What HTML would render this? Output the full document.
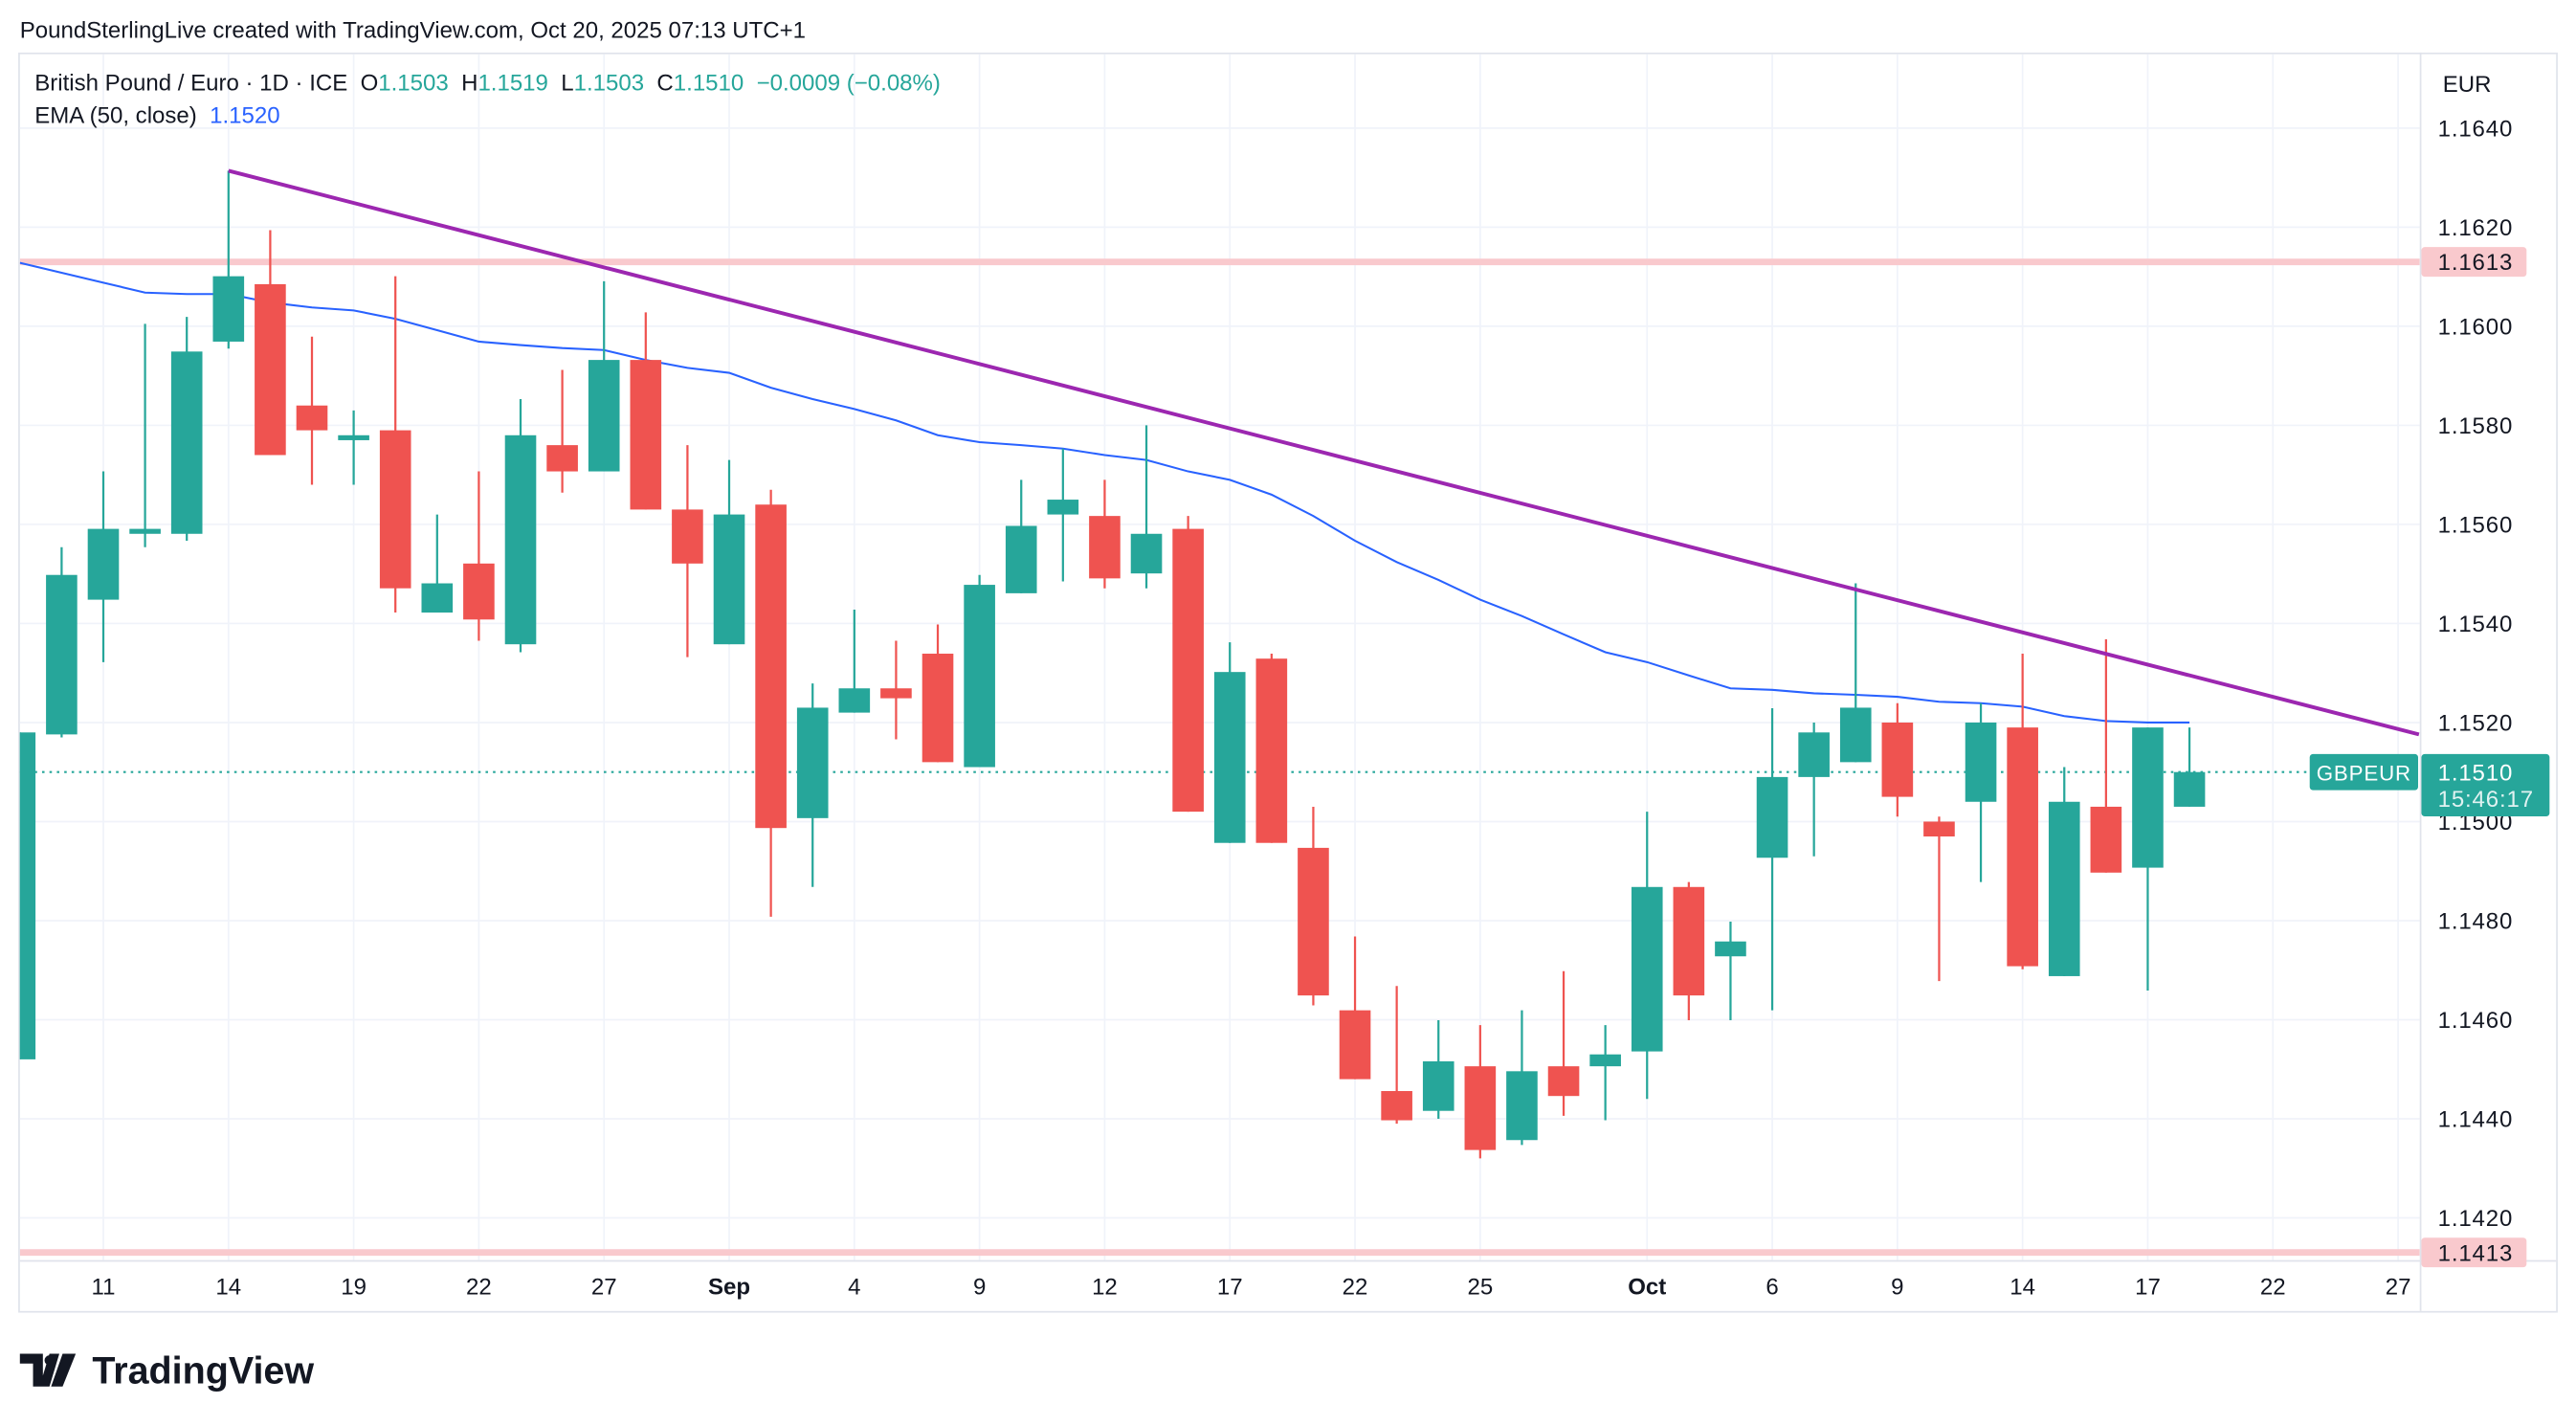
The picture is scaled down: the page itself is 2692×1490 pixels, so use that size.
<!DOCTYPE html>
<html><head><meta charset="utf-8"><style>
html,body{margin:0;padding:0;background:#fff;}
svg{display:block;font-family:"Liberation Sans",sans-serif;}
.pre{white-space:pre;}
</style></head><body>
<svg id="chart" width="2692" height="1490" viewBox="0 0 1568 868" xmlns="http://www.w3.org/2000/svg">
<text x="12" y="23" font-size="14" fill="#131722">PoundSterlingLive created with TradingView.com, Oct 20, 2025 07:13 UTC+1</text>
<rect x="11.5" y="32.5" width="1545" height="766" fill="none" stroke="#e0e3eb" stroke-width="1"/>
<g id="grid"></g>
<g id="levels"></g>
<g id="ema"></g>
<g id="candles"></g>
<g id="trend"></g>
<line x1="1473.5" y1="32" x2="1473.5" y2="798" stroke="#e0e3eb"/>
<line x1="12" y1="767.5" x2="1556" y2="767.5" stroke="#e0e3eb"/>
<g id="yaxis"></g>
<g id="xaxis"></g>
<text x="1487" y="56" font-size="14" fill="#131722">EUR</text>
<text class="pre" xml:space="preserve" x="21" y="55" font-size="14" fill="#131722">British Pound / Euro · 1D · ICE  O<tspan fill="#26a69a">1.1503</tspan>  H<tspan fill="#26a69a">1.1519</tspan>  L<tspan fill="#26a69a">1.1503</tspan>  C<tspan fill="#26a69a">1.1510</tspan>  <tspan fill="#26a69a">−0.0009 (−0.08%)</tspan></text>
<text class="pre" xml:space="preserve" x="21" y="75" font-size="14" fill="#131722">EMA (50, close)  <tspan fill="#2962ff">1.1520</tspan></text>
<g id="tags"></g>
<g>
<path d="M12 824h14v20h-6v-14h-8z M30 824h6l-6 20h-6z" fill="#131722"/>
<circle cx="30" cy="828" r="3" fill="#131722"/>
<path d="M38 824h8l-8 20h-7z" fill="#131722"/>
<text x="56" y="842" font-size="23" font-weight="bold" fill="#131722">TradingView</text>
</g>
</svg>
<script>
// ---- data ----
const open  = [1.1452,1.15176,1.15448,1.15581,1.15581,1.15969,1.16085,1.1584,1.1577,1.1579,1.15422,1.15521,1.15358,1.1576,1.15707,1.15932,1.1563,1.15358,1.1564,1.15007,1.1522,1.15269,1.15339,1.1511,1.15461,1.1562,1.15617,1.15501,1.15591,1.14957,1.15329,1.14947,1.14619,1.14456,1.14416,1.14506,1.14357,1.14506,1.14506,1.14536,1.14868,1.14728,1.14927,1.1509,1.1512,1.152,1.15,1.1504,1.1519,1.14688,1.1503,1.14907,1.1503];
const high  = [1.1518,1.15554,1.15707,1.16005,1.16019,1.16314,1.16194,1.15979,1.1583,1.16101,1.1562,1.15707,1.15853,1.15912,1.16091,1.16028,1.1576,1.1573,1.1567,1.15279,1.15428,1.15365,1.15398,1.15498,1.1569,1.15753,1.1569,1.158,1.15617,1.15362,1.15339,1.1503,1.14768,1.14668,1.14599,1.14589,1.14619,1.14698,1.14589,1.1502,1.14878,1.14798,1.15229,1.152,1.15481,1.15239,1.1501,1.15239,1.15339,1.1511,1.15368,1.1519,1.1519];
const low   = [1.1452,1.1517,1.15322,1.15554,1.15567,1.15955,1.1574,1.1568,1.1568,1.15422,1.15422,1.15365,1.15342,1.15664,1.15707,1.1563,1.15332,1.15358,1.14808,1.14868,1.1522,1.15166,1.1512,1.1511,1.15461,1.15485,1.15471,1.15471,1.1502,1.14957,1.14957,1.14629,1.1448,1.1439,1.144,1.1432,1.14347,1.14406,1.14397,1.1444,1.14599,1.14599,1.14619,1.1493,1.1512,1.1501,1.14678,1.14878,1.14702,1.14688,1.14897,1.14659,1.1503];
const close = [1.1518,1.15498,1.15591,1.15591,1.15949,1.16101,1.1574,1.1579,1.1578,1.15471,1.15481,1.15408,1.1578,1.15707,1.15932,1.1563,1.15521,1.1562,1.14987,1.1523,1.15269,1.15249,1.1512,1.15478,1.15597,1.1565,1.15491,1.15581,1.1502,1.15302,1.14957,1.14649,1.1448,1.14397,1.14516,1.14337,1.14496,1.14446,1.1453,1.14868,1.14649,1.14758,1.1509,1.1518,1.1523,1.1505,1.1497,1.152,1.14708,1.1504,1.14897,1.1519,1.1510];
const emaValues = [1.16128,1.16108,1.16088,1.16068,1.16065,1.16065,1.16048,1.16038,1.16032,1.16015,1.15992,1.15969,1.15962,1.15956,1.15952,1.15932,1.15916,1.15906,1.15876,1.15853,1.15833,1.1581,1.1578,1.15766,1.1576,1.15753,1.1574,1.1573,1.15707,1.1569,1.1566,1.15617,1.15567,1.15524,1.15488,1.15448,1.15415,1.15378,1.15342,1.15322,1.15295,1.15269,1.15266,1.15259,1.15256,1.15252,1.15242,1.15239,1.15232,1.15213,1.15203,1.152,1.152];
const trendIdx = [5, 57.5];
const trendPrice = [1.16314, 1.15176];
const yTicks = [1.1640,1.1620,1.1600,1.1580,1.1560,1.1540,1.1520,1.1500,1.1480,1.1460,1.1440,1.1420];
const xTickIdx = [2,5,8,11,14,17,20,23,26,29,32,35,39,42,45,48,51,54,57];
const xTickLabels = ["11","14","19","22","27","Sep","4","9","12","17","22","25","Oct","6","9","14","17","22","27"];
const levelPrices = [1.1613, 1.1413];
const lastPrice = 1.1510;

// ---- scales ----
const NS="http://www.w3.org/2000/svg";
const X=i=>12+i*25.4;
const Y=p=>78+(1.164-p)/0.002*60.3;
function mk(tag,attrs,parent){const e=document.createElementNS(NS,tag);for(const k in attrs)e.setAttribute(k,attrs[k]);parent.appendChild(e);return e;}
const $=id=>document.getElementById(id);

const defs=mk('defs',{},$('chart'));
const cp=mk('clipPath',{id:'plot'},defs);
mk('rect',{x:12,y:33,width:1461,height:734},cp);
['levels','ema','candles','trend'].forEach(id=>$(id).setAttribute('clip-path','url(#plot)'));

yTicks.forEach(p=>{
  const l=mk('line',{x1:12,x2:1473,y1:Y(p),y2:Y(p),stroke:'#f0f3fa','stroke-width':1},$('grid'));
  
  
  const t=mk('text',{x:1484,y:Y(p)+5,'font-size':14,fill:'#131722','letter-spacing':'0.5'},$('yaxis'));
  
  
  t.textContent=p.toFixed(4);
});
xTickIdx.forEach((i,k)=>{
  const l=mk('line',{x1:X(i),x2:X(i),y1:33,y2:767,stroke:'#f0f3fa','stroke-width':1},$('grid'));
  
  
  const lab=xTickLabels[k];
  const t=mk('text',{x:X(i),y:788,'font-size':14,fill:'#131722','text-anchor':'middle','font-weight':(lab==='Sep'||lab==='Oct')?'bold':'normal'},$('xaxis'));
  
  
  t.textContent=lab;
});

levelPrices.forEach(p=>{
  const l=mk('line',{x1:12,x2:1473,y1:Y(p),y2:Y(p),stroke:'#f9c9cd','stroke-width':4},$('levels'));
  
  
});
const dl=mk('line',{x1:12,x2:1473,y1:Y(lastPrice),y2:Y(lastPrice),stroke:'#26a69a','stroke-width':1.2,'stroke-dasharray':'1.5 3'},$('levels'));



const ep=mk('polyline',{points:emaValues.map((v,i)=>X(i)+','+Y(v)).join(' '),fill:'none',stroke:'#2962ff','stroke-width':1.2},$('ema'));



const bw=19;
open.forEach((o,i)=>{
  const c=close[i],up=c>=o,col=up?'#26a69a':'#ef5350';
  const g=mk('g',{},$('candles'));
  
  
  mk('line',{x1:X(i),x2:X(i),y1:Y(high[i]),y2:Y(low[i]),stroke:col,'stroke-width':1.3},g);
  const top=Y(Math.max(o,c)),h=Math.max(1.5,Math.abs(Y(o)-Y(c)));
  mk('rect',{x:X(i)-bw/2,y:top,width:bw,height:h,fill:col},g);
});

const tl=mk('line',{x1:X(trendIdx[0]),y1:Y(trendPrice[0]),x2:X(trendIdx[1]),y2:Y(trendPrice[1]),stroke:'#9c27b0','stroke-width':2.3},$('trend'));



const tg=$('tags');
levelPrices.forEach(p=>{
  const g=mk('g',{},tg);
  
  
  mk('rect',{x:1474,y:Y(p)-9,width:64,height:18,rx:2,fill:'#f9c9cd'},g);
  const t=mk('text',{x:1484,y:Y(p)+5,'font-size':14,fill:'#131722','letter-spacing':'0.5'},g);
  t.textContent=p.toFixed(4);
});
const yl=Y(lastPrice);
const g1=mk('g',{},tg);


mk('rect',{x:1406,y:yl-11,width:66,height:22,rx:2,fill:'#26a69a'},g1);
const s1=mk('text',{x:1439,y:yl+5,'font-size':13,fill:'#fff','text-anchor':'middle','letter-spacing':'0.5'},g1);
s1.textContent='GBPEUR';
const g2=mk('g',{},tg);


mk('rect',{x:1474,y:yl-11,width:78,height:38,rx:2,fill:'#26a69a'},g2);
const s2=mk('text',{x:1484,y:yl+5,'font-size':14,fill:'#fff','letter-spacing':'0.5'},g2);
s2.textContent=lastPrice.toFixed(4);
const s3=mk('text',{x:1484,y:yl+21,'font-size':14,fill:'#e0f2f1','letter-spacing':'0.5'},g2);
s3.textContent='15:46:17';
</script>
</body></html>
